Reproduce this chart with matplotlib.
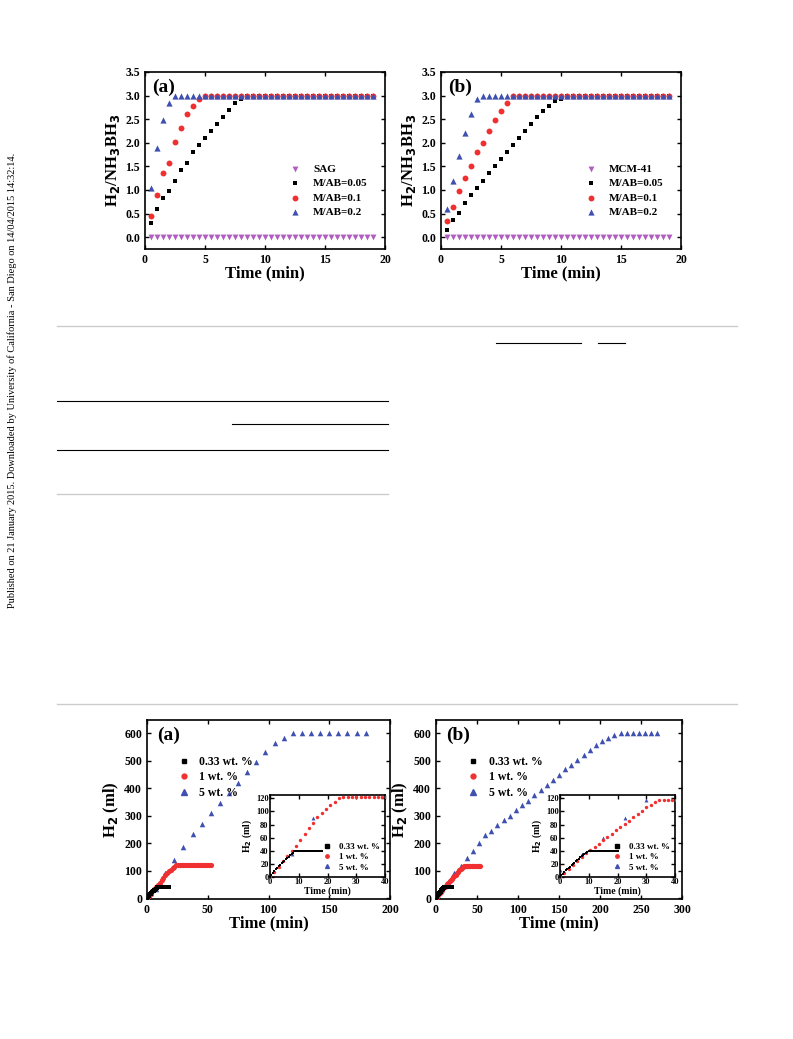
import matplotlib
matplotlib.use('Agg')
import matplotlib.pyplot as plt
from matplotlib.lines import Line2D

plt.rcParams['font.family'] = 'Liberation Serif'
plt.rcParams['font.weight'] = 'bold'

# ---- top panels: H2/NH3BH3 vs time
t_top = [0.5 * i for i in range(1, 39)]                      # 0.5 .. 19 min
a_sag = [0.0] * 38
a_005 = [0.3, 0.6, 0.82, 0.97, 1.2, 1.42, 1.57, 1.8, 1.95, 2.1, 2.25, 2.4, 2.55, 2.7, 2.85, 2.93] + [3.0] * 22
a_01 = [0.45, 0.9, 1.35, 1.57, 2.02, 2.32, 2.62, 2.77, 2.93] + [3.0] * 29
a_02 = [1.05, 1.88, 2.48, 2.85] + [3.0] * 34
b_mcm = [0.0] * 38
b_005 = [0.15, 0.37, 0.52, 0.72, 0.9, 1.05, 1.2, 1.35, 1.5, 1.65, 1.8, 1.95, 2.1, 2.25, 2.4, 2.55,
         2.67, 2.78, 2.88, 2.92] + [3.0] * 18
b_01 = [0.35, 0.65, 0.97, 1.25, 1.5, 1.8, 2.0, 2.25, 2.48, 2.68, 2.85] + [3.0] * 27
b_02 = [0.6, 1.2, 1.72, 2.2, 2.62, 2.93] + [3.0] * 32

# ---- bottom panels: H2 volume vs time
a_t5 = [7.5 * i for i in range(0, 25)]
a_v5 = [5, 35, 90, 138, 185, 232, 270, 308, 345, 383, 420, 458, 495, 533, 563, 582] + [600] * 9
a_t1 = [1.5 * i for i in range(0, 36)]
a_v1 = [0, 8, 16, 25, 32, 40, 48, 57, 66, 75, 83, 91, 98, 104, 109, 115, 120, 122] + [122] * 18
a_t033 = [0.5 * i for i in range(0, 37)]
a_v033 = [0, 3, 6, 9, 12, 14, 17, 19, 21, 23, 25, 27, 29, 31, 33, 35, 37, 39, 40] + [40] * 18

b_t5 = [7.5 * i for i in range(0, 37)]
b_v5 = [10, 35, 60, 90, 118, 145, 172, 200, 228, 245, 265, 283, 300, 320, 338, 355, 375, 393, 412,
        430, 448, 468, 485, 503, 522, 540, 558, 570, 582, 592] + [600] * 7
b_t1 = [1.5 * i for i in range(0, 37)]
b_v1 = [0, 6, 12, 18, 24, 30, 36, 41, 46, 51, 56, 61, 66, 71, 76, 81, 86, 91, 96, 101, 106, 110,
        114, 117, 118] + [118] * 12
b_t033 = [0.5 * i for i in range(0, 41)]
b_v033 = [0, 3, 5, 8, 10, 12, 14, 16, 18, 20, 22, 24, 26, 28, 30, 32, 34, 35, 37, 38, 40] + [40] * 20

W, H = 793, 1039
fig = plt.figure(figsize=(W / 100, H / 100), dpi=100)


def ax_px(x0, y0, x1, y1):
    return fig.add_axes([x0 / W, 1 - y1 / H, (x1 - x0) / W, (y1 - y0) / H])


def style(ax, fs=9):
    for s in ax.spines.values():
        s.set_linewidth(1.2)
    ax.tick_params(direction='in', labelsize=fs, width=1, length=3, top=True, right=True,
                   labeltop=False, labelright=False)
    for lab in ax.get_xticklabels() + ax.get_yticklabels():
        lab.set_fontweight('bold')


def top_panel(box, tag, base_lab, base, y005, y01, y02):
    ax = ax_px(*box)
    ax.scatter(t_top, base, marker='v', s=18, color='#b05fc0', label=base_lab, lw=0)
    ax.scatter(t_top, y005, marker='s', s=12, color='black', label='M/AB=0.05', lw=0)
    ax.scatter(t_top, y01, marker='o', s=18, color='#f03030', label='M/AB=0.1', lw=0)
    ax.scatter(t_top, y02, marker='^', s=20, color='#4050b0', label='M/AB=0.2', lw=0)
    ax.set_xlim(0, 20)
    ax.set_ylim(-0.25, 3.5)
    ax.set_xticks([0, 5, 10, 15, 20])
    ax.set_yticks([0.0, 0.5, 1.0, 1.5, 2.0, 2.5, 3.0, 3.5])
    ax.set_yticklabels(['%.1f' % v for v in ax.get_yticks()])
    ax.set_xlabel('Time (min)', fontsize=12, fontweight='bold', labelpad=0)
    ax.set_ylabel(r'H$_2$/NH$_3$BH$_3$', fontsize=12, fontweight='bold', labelpad=2)
    ax.text(0.03, 0.96, tag, transform=ax.transAxes, fontsize=14, fontweight='bold', va='top')
    ax.legend(loc='center right', bbox_to_anchor=(0.97, 0.33), frameon=False, fontsize=8,
              handletextpad=0.6, labelspacing=0.4, markerscale=1.0)
    style(ax, 8.5)


top_panel((145, 72, 385, 249), '(a)', 'SAG', a_sag, a_005, a_01, a_02)
top_panel((441, 72, 681, 249), '(b)', 'MCM-41', b_mcm, b_005, b_01, b_02)


def bot_panel(box, ibox, tag, xmax, xt, t5, v5, t1, v1, t033, v033):
    ax = ax_px(*box)
    ax.scatter(t5, v5, marker='^', s=16, color='#4050b0', lw=0, zorder=2)
    ax.scatter(t1, v1, marker='o', s=14, color='#f03030', lw=0, zorder=3)
    ax.scatter(t033, v033, marker='s', s=8, color='black', lw=0, zorder=4)
    ax.set_xlim(0, xmax)
    ax.set_ylim(-3, 648)
    ax.set_xticks(xt)
    ax.set_yticks([0, 100, 200, 300, 400, 500, 600])
    ax.set_xlabel('Time (min)', fontsize=12, fontweight='bold', labelpad=0)
    ax.set_ylabel(r'H$_2$ (ml)', fontsize=12, fontweight='bold', labelpad=2)
    ax.text(0.04, 0.96, tag, transform=ax.transAxes, fontsize=14, fontweight='bold', va='top')
    hs = [Line2D([], [], ls='', marker='s', ms=3.5, color='black'),
          Line2D([], [], ls='', marker='o', ms=3.5, color='#f03030'),
          Line2D([], [], ls='', marker='^', ms=4, color='#4050b0')]
    ax.legend(hs, ['0.33 wt. %', '1 wt. %', '5 wt. %'], loc='upper left', bbox_to_anchor=(0.06, 0.86),
              frameon=False, fontsize=8.5, handletextpad=0.3, labelspacing=0.3)
    style(ax, 8.5)

    ins = ax_px(*ibox)
    ins.scatter(t5, v5, marker='^', s=8, color='#4050b0', lw=0, zorder=2)
    ins.scatter(t1, v1, marker='o', s=6, color='#f03030', lw=0, zorder=3)
    ins.scatter(t033, v033, marker='s', s=4, color='black', lw=0, zorder=4)
    ins.set_xlim(0, 40)
    ins.set_ylim(0, 125)
    ins.set_xticks([0, 10, 20, 30, 40])
    ins.set_yticks([0, 20, 40, 60, 80, 100, 120])
    ins.set_xlabel('Time (min)', fontsize=7, fontweight='bold', labelpad=0)
    ins.set_ylabel(r'H$_2$ (ml)', fontsize=7, fontweight='bold', labelpad=1)
    ins.legend(hs, ['0.33 wt. %', '1 wt. %', '5 wt. %'], loc='lower right', frameon=False, fontsize=6.5,
               handletextpad=0.3, labelspacing=0.2, markerscale=0.7, borderaxespad=0.2)
    style(ins, 6)
    ins.tick_params(pad=1)


bot_panel((147, 720, 390, 899), (270, 795, 385, 877), '(a)', 200, [0, 50, 100, 150, 200],
          a_t5, a_v5, a_t1, a_v1, a_t033, a_v033)
bot_panel((436, 720, 682, 899), (560, 795, 675, 877), '(b)', 300, [0, 50, 100, 150, 200, 250, 300],
          b_t5, b_v5, b_t1, b_v1, b_t033, b_v033)

# ---- page decorations (rules of the surrounding article page)
def hline(y, x0, x1, color='black', lw=0.8):
    fig.add_artist(Line2D([x0 / W, x1 / W], [1 - y / H, 1 - y / H], color=color, lw=lw))

hline(326, 57, 737, '#cccccc', 1.0)
hline(704, 57, 737, '#cccccc', 1.0)
hline(401, 57, 388)
hline(424, 232, 388)
hline(450, 57, 388)
hline(494, 57, 388, '#cccccc', 1.0)
hline(343, 496, 581)
hline(343, 598, 625)

fig.text(12 / W, 1 - 380 / H,
         'Published on 21 January 2015. Downloaded by University of California - San Diego on 14/04/2015 14:32:14.',
         rotation=90, ha='center', va='center', fontsize=7.5, fontweight='normal')

fig.savefig('out.png', dpi=100)
